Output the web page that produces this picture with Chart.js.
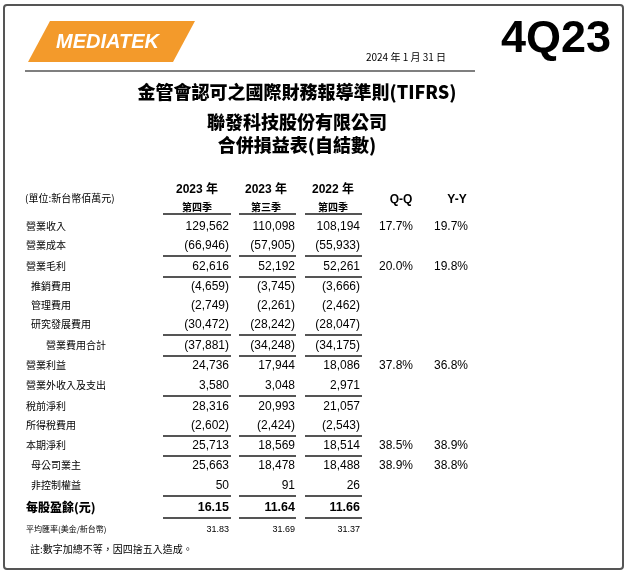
<!DOCTYPE html>
<html><head><meta charset="utf-8">
<script src="https://cdn.jsdelivr.net/npm/chart.js@4/dist/chart.umd.min.js"></script>
<style>html,body{margin:0;padding:0;background:#fff}#w{width:628px;height:573px}</style>
</head><body><div id="w"><canvas id="c"></canvas></div>
<script>
const rowLabels=["營業收入","營業成本","營業毛利","推銷費用","管理費用","研究發展費用","營業費用合計","營業利益","營業外收入及支出","稅前淨利","所得稅費用","本期淨利","母公司業主","非控制權益","每股盈餘(元)","平均匯率(美金/新台幣)"];
const q4_2023=["129,562","(66,946)","62,616","(4,659)","(2,749)","(30,472)","(37,881)","24,736","3,580","28,316","(2,602)","25,713","25,663","50","16.15","31.83"];
const q3_2023=["110,098","(57,905)","52,192","(3,745)","(2,261)","(28,242)","(34,248)","17,944","3,048","20,993","(2,424)","18,569","18,478","91","11.64","31.69"];
const q4_2022=["108,194","(55,933)","52,261","(3,666)","(2,462)","(28,047)","(34,175)","18,086","2,971","21,057","(2,543)","18,514","18,488","26","11.66","31.37"];
const qoq=["17.7%",null,"20.0%",null,null,null,null,"37.8%",null,null,null,"38.5%","38.9%",null,null,null];
const yoy=["19.7%",null,"19.8%",null,null,null,null,"36.8%",null,null,null,"38.9%","38.8%",null,null,null];
const colHeads=[["2023 年","第四季"],["2023 年","第三季"],["2022 年","第四季"]];
const ruleAfter=[-1,1,2,5,6,8,10,11,13,14];
const indent=[0,0,0,1,1,1,2,0,0,0,0,0,1,1,0,0];

const CJK='"Noto Sans CJK TC"';
const rowY=[227,246,267,287,306,325,346,366,386,407,426,446,466,486,508,530];
const plugin={id:'tbl',afterDraw(ch){
 const c=ch.ctx,X=v=>ch.scales.x.getPixelForValue(v),Y=v=>ch.scales.y.getPixelForValue(v);
 c.save();
 c.strokeStyle='#555';c.lineWidth=2;c.beginPath();c.roundRect(X(4),Y(5),X(623)-X(4),Y(569)-Y(5),3);c.stroke();
 c.fillStyle='#f39a2b';c.beginPath();c.moveTo(X(50),Y(21));c.lineTo(X(195),Y(21));c.lineTo(X(173),Y(62));c.lineTo(X(28),Y(62));c.closePath();c.fill();
 c.fillStyle='#fff';c.font='bold italic 20px "Liberation Sans"';c.textBaseline='middle';c.textAlign='left';c.fillText('MEDIATEK',X(56),Y(42));
 c.fillStyle='#000';c.font='bold 45px "Liberation Sans"';c.textAlign='right';c.textBaseline='alphabetic';c.fillText('4Q23',X(611),Y(52));
 c.font='10px '+CJK;c.fillText('2024 年 1 月 31 日',X(446),Y(61));
 c.lineWidth=1.5;c.beginPath();c.moveTo(X(25),Y(71));c.lineTo(X(475),Y(71));c.stroke();
 c.textAlign='center';c.font='900 18px '+CJK;c.fillText('金管會認可之國際財務報導準則(TIFRS)',X(297),Y(99));
 c.fillText('聯發科技股份有限公司',X(297),Y(129));c.fillText('合併損益表(自結數)',X(297),Y(152));
 c.font='10px '+CJK;c.textAlign='left';c.fillText('(單位:新台幣佰萬元)',X(25),Y(202));
 const cx=[197,266,333],rx=[229,295,360],ul=[[163,231],[239,296],[305,362]];
 c.textAlign='center';
 colHeads.forEach((h,i)=>{c.font='bold 12px "Liberation Sans", '+CJK;c.fillText(h[0],X(cx[i]),Y(193));c.font='bold 10px '+CJK;c.fillText(h[1],X(cx[i]),Y(211));});
 c.font='bold 12px "Liberation Sans"';c.fillText('Q-Q',X(401),Y(203));c.fillText('Y-Y',X(457),Y(203));
 c.textBaseline='middle';
 rowLabels.forEach((l,i)=>{
  const y=Y(rowY[i]),last=i===15,eps=i===14;
  c.textAlign='left';c.font=(eps?'900 12px ':last?'8px ':'10px ')+CJK;
  c.fillText(l,X(26+indent[i]*5+(i===6?10:0)),y-1);
  c.textAlign='right';c.font=(eps?'bold 12.5px ':last?'9px ':'12px ')+'"Liberation Sans Narrow","Liberation Sans"';
  [q4_2023,q3_2023,q4_2022].forEach((a,j)=>c.fillText(a[i],X(rx[j]),y));
  if(qoq[i])c.fillText(qoq[i],X(413),y);
  if(yoy[i])c.fillText(yoy[i],X(468),y);
 });
 c.lineWidth=2;
 ruleAfter.forEach(r=>{const y=r<0?Y(214):Y(rowY[r]+10);ul.forEach(u=>{c.beginPath();c.moveTo(X(u[0]),y);c.lineTo(X(u[1]),y);c.stroke();});});
 c.textAlign='left';c.font='10px '+CJK;c.fillText('註:數字加總不等，因四捨五入造成。',X(30),Y(549));
 c.restore();
}};
new Chart(document.getElementById('c'),{type:'scatter',data:{datasets:[{data:[]}]},
 options:{responsive:true,maintainAspectRatio:false,animation:false,layout:{padding:0},
 plugins:{legend:{display:false},tooltip:{enabled:false}},
 scales:{x:{type:'linear',min:0,max:628,display:false},y:{type:'linear',min:0,max:573,reverse:true,display:false}}},
 plugins:[plugin]});
</script></body></html>
